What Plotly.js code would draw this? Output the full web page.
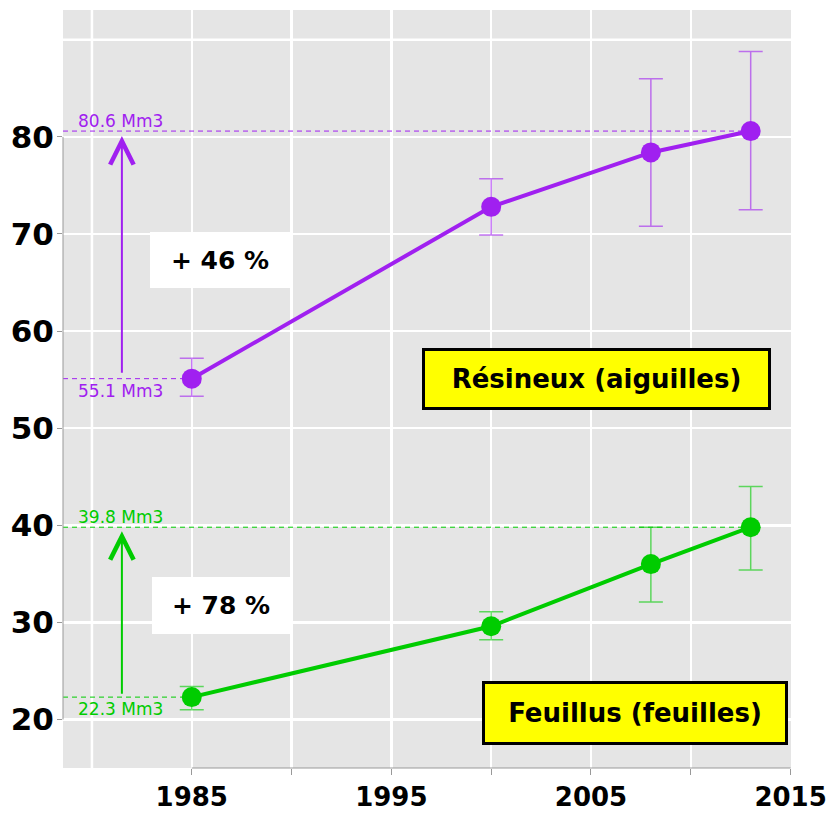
<!DOCTYPE html>
<html>
<head>
<meta charset="utf-8">
<script src="https://cdn.plot.ly/plotly-3.0.1.min.js"></script>
<style>html,body{margin:0;padding:0;background:#fff;}#chart{width:830px;height:818px;}</style>
</head>
<body>
<div id="chart"></div>
<script>
// ---- data ----
const years = [1985, 2000, 2008, 2013];
const resValues = [55.1, 72.8, 78.4, 80.6];
const resHigh = [57.2, 75.7, 86.0, 88.8];
const resLow = [53.3, 69.9, 70.8, 72.5];
const feuValues = [22.3, 29.6, 36.0, 39.8];
const feuHigh = [23.4, 31.1, 39.8, 44.0];
const feuLow = [21.0, 28.2, 32.1, 35.4];
const seriesNames = ['Résineux (aiguilles)', 'Feuillus (feuilles)'];
const xTickVals = [1985, 1990, 1995, 2000, 2005, 2010, 2015];
const xTickText = ['1985', '', '1995', '', '2005', '', '2015'];
const yTickVals = [20, 30, 40, 50, 60, 70, 80];

// ---- style ----
const PURPLE = '#A020F0';
const GREEN = '#00CC00';
const X0 = 1978.55, X1 = 2015.02;
const Y0 = 15.0, Y1 = 93.07;
const ARROW_X = 1981.5;

function seriesTrace(vals, hi, lo, color, errColor) {
  return {
    x: years, y: vals, type: 'scatter', mode: 'lines+markers',
    line: {color: color, width: 4},
    marker: {color: color, size: 20},
    error_y: {
      type: 'data', symmetric: false,
      array: vals.map((v, i) => hi[i] - v),
      arrayminus: vals.map((v, i) => v - lo[i]),
      color: errColor, thickness: 1.5, width: 12
    },
    hoverinfo: 'skip', showlegend: false
  };
}
function refLine(xEnd, v, color) {
  return {x: [X0, xEnd], y: [v, v], type: 'scatter', mode: 'lines',
    line: {color: color, width: 1, dash: '5px,4px'}, hoverinfo: 'skip', showlegend: false};
}

const traces = [
  refLine(years[years.length - 1], resValues[resValues.length - 1], PURPLE),
  refLine(years[0], resValues[0], PURPLE),
  refLine(years[years.length - 1], feuValues[feuValues.length - 1], GREEN),
  refLine(years[0], feuValues[0], GREEN),
  seriesTrace(resValues, resHigh, resLow, PURPLE, 'rgba(160,32,240,0.6)'),
  seriesTrace(feuValues, feuHigh, feuLow, GREEN, 'rgba(0,204,0,0.6)')
];

const pct = (a, b) => '+ ' + Math.round((b - a) / a * 100) + ' %';
const mm = v => v.toFixed(1) + ' Mm3';
const resFirst = resValues[0], resLast = resValues[resValues.length - 1];
const feuFirst = feuValues[0], feuLast = feuValues[feuValues.length - 1];

const labelFont = (c) => ({family: 'DejaVu Sans', size: 17, color: c});
const annotations = [
  {xref: 'paper', yref: 'y', x: 0.0185, y: resLast, yshift: -2, text: mm(resLast), showarrow: false, xanchor: 'left', yanchor: 'bottom', font: labelFont(PURPLE)},
  {xref: 'paper', yref: 'y', x: 0.0185, y: resFirst, yshift: 0, text: mm(resFirst), showarrow: false, xanchor: 'left', yanchor: 'top', font: labelFont(PURPLE)},
  {xref: 'paper', yref: 'y', x: 0.0185, y: feuLast, yshift: -2, text: mm(feuLast), showarrow: false, xanchor: 'left', yanchor: 'bottom', font: labelFont(GREEN)},
  {xref: 'paper', yref: 'y', x: 0.0185, y: feuFirst, yshift: 0, text: mm(feuFirst), showarrow: false, xanchor: 'left', yanchor: 'top', font: labelFont(GREEN)},
  // arrows
  {xref: 'x', yref: 'y', axref: 'x', ayref: 'y', x: ARROW_X, y: resLast, ax: ARROW_X, ay: resFirst + 0.45,
   showarrow: true, arrowhead: 5, arrowsize: 2.3, arrowwidth: 2, arrowcolor: PURPLE, standoff: 5, text: ''},
  {xref: 'x', yref: 'y', axref: 'x', ayref: 'y', x: ARROW_X, y: feuLast, ax: ARROW_X, ay: feuFirst + 0.2,
   showarrow: true, arrowhead: 5, arrowsize: 2.3, arrowwidth: 2, arrowcolor: GREEN, standoff: 4, text: ''},
  // percentage boxes
  {xref: 'paper', yref: 'paper', x: 0.2157, y: 0.6702, xanchor: 'center', yanchor: 'middle', showarrow: false,
   text: pct(resFirst, resLast), bgcolor: '#ffffff', borderpad: 0, borderwidth: 0, width: 140, height: 56,
   font: {family: 'DejaVu Sans', size: 25, color: '#000', weight: 'bold'}},
  {xref: 'paper', yref: 'paper', x: 0.2170, y: 0.2144, xanchor: 'center', yanchor: 'middle', showarrow: false,
   text: pct(feuFirst, feuLast), bgcolor: '#ffffff', borderpad: 0, borderwidth: 0, width: 138, height: 57,
   font: {family: 'DejaVu Sans', size: 25, color: '#000', weight: 'bold'}},
  // name boxes
  {xref: 'paper', yref: 'paper', x: 0.7335, y: 0.5132, xanchor: 'center', yanchor: 'middle', showarrow: false,
   text: seriesNames[0], bgcolor: '#FFFF00', bordercolor: '#000', borderwidth: 3, borderpad: 0, width: 343, height: 56,
   font: {family: 'DejaVu Sans', size: 26, color: '#000', weight: 'bold'}},
  {xref: 'paper', yref: 'paper', x: 0.7857, y: 0.0726, xanchor: 'center', yanchor: 'middle', showarrow: false,
   text: seriesNames[1], bgcolor: '#FFFF00', bordercolor: '#000', borderwidth: 3, borderpad: 0, width: 300, height: 58,
   font: {family: 'DejaVu Sans', size: 26, color: '#000', weight: 'bold'}}
];

const shapes = [
  {type: 'line', xref: 'x', yref: 'paper', x0: 1980, x1: 1980, y0: 0, y1: 1, line: {color: '#fff', width: 2.5}, layer: 'below'},
  {type: 'line', xref: 'paper', yref: 'y', x0: 0, x1: 1, y0: 90, y1: 90, line: {color: '#fff', width: 2.5}, layer: 'below'},
  {type: 'line', xref: 'paper', yref: 'y', x0: 0, x1: 0, y0: yTickVals[0], y1: yTickVals[yTickVals.length - 1], line: {color: '#999', width: 1}},
  {type: 'line', xref: 'x', yref: 'paper', x0: xTickVals[0], x1: xTickVals[xTickVals.length - 1], y0: 0, y1: 0, line: {color: '#999', width: 1}}
];

const layout = {
  width: 830, height: 818,
  margin: {l: 63, r: 39, t: 10, b: 50},
  paper_bgcolor: '#ffffff', plot_bgcolor: '#E5E5E5',
  showlegend: false,
  xaxis: {
    range: [X0, X1], tickmode: 'array', tickvals: xTickVals, ticktext: xTickText,
    showgrid: true, gridcolor: '#ffffff', gridwidth: 2.5, zeroline: false, showline: false,
    ticks: 'outside', ticklen: 6, tickcolor: '#999', tickwidth: 1,
    tickfont: {family: 'DejaVu Sans', size: 26, color: '#000', weight: 'bold'},
    automargin: false, fixedrange: true
  },
  yaxis: {
    range: [Y0, Y1], tickmode: 'array', tickvals: yTickVals,
    showgrid: true, gridcolor: '#ffffff', gridwidth: 2.5, zeroline: false, showline: false,
    ticks: 'outside', ticklen: 5, tickcolor: '#999', tickwidth: 1, ticklabelstandoff: -3,
    tickfont: {family: 'DejaVu Sans', size: 31, color: '#000', weight: 'bold'},
    automargin: false, fixedrange: true
  },
  shapes: shapes,
  annotations: annotations
};

Plotly.newPlot('chart', traces, layout, {staticPlot: true, displayModeBar: false});
</script>
</body>
</html>
